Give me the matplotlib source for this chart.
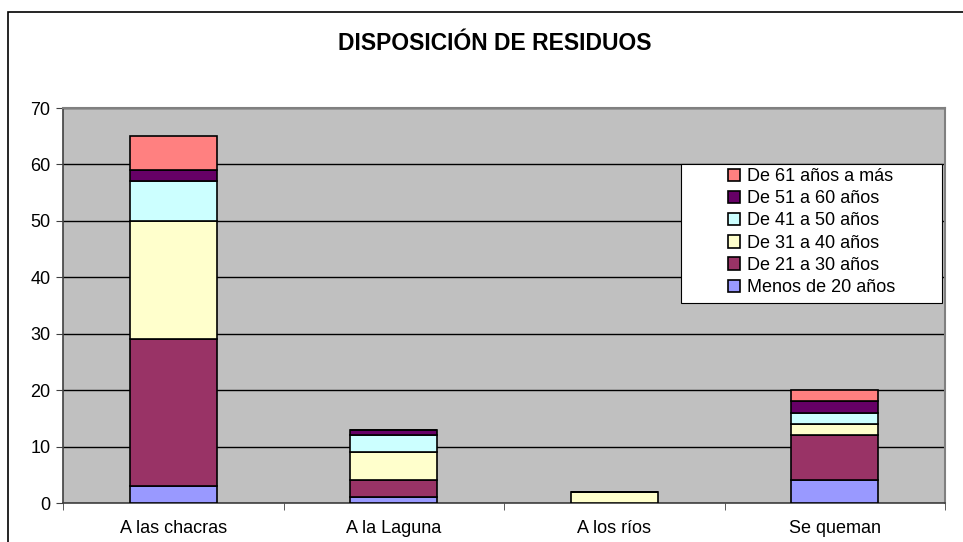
import matplotlib.pyplot as plt
import matplotlib.patches as patches
import numpy as np

plt.rcParams['font.family'] = ['Liberation Sans', 'DejaVu Sans']

categories = ['A las chacras', 'A la Laguna', 'A los ríos', 'Se queman']
series_names = ['Menos de 20 años', 'De 21 a 30 años', 'De 31 a 40 años',
                'De 41 a 50 años', 'De 51 a 60 años', 'De 61 años a más']
menos_20 = [3, 1, 0, 4]
de_21_30 = [26, 3, 0, 8]
de_31_40 = [21, 5, 2, 2]
de_41_50 = [7, 3, 0, 2]
de_51_60 = [2, 1, 0, 2]
de_61_mas = [6, 0, 0, 2]
colors = ['#9999FF', '#993366', '#FFFFCC', '#CCFFFF', '#660066', '#FF8080']

series = [menos_20, de_21_30, de_31_40, de_41_50, de_51_60, de_61_mas]

fig = plt.figure(figsize=(9.63, 5.42), dpi=100)
ax = fig.add_axes([63 / 963, 39 / 542, 882 / 963, 395 / 542])
ax.set_facecolor('#C0C0C0')

x = np.arange(len(categories))
bottom = np.zeros(len(categories))
handles = []
for vals, name, col in zip(series, series_names, colors):
    vals = np.array(vals, dtype=float)
    b = ax.bar(x, vals, width=0.395, bottom=bottom, color=col,
               edgecolor='black', linewidth=1.2, label=name, zorder=3)
    handles.append(b)
    bottom += vals

ax.set_xlim(-0.5, 3.5)
ax.set_ylim(0, 70)
ax.set_yticks(range(0, 71, 10))
ax.yaxis.grid(True, color='black', linewidth=1, zorder=1)
ax.set_axisbelow(True)

ax.set_xticks(x)
ax.set_xticklabels(categories, fontsize=13)
ax.set_xticks([-0.5, 0.5, 1.5, 2.5, 3.5], minor=True)
ax.tick_params(axis='x', which='major', length=0, pad=12)
ax.tick_params(axis='x', which='minor', length=5, direction='out', color='#404040')
ax.tick_params(axis='y', length=5, direction='out', color='#404040', labelsize=13, pad=4)

for side in ['top', 'right']:
    ax.spines[side].set_color('#808080')
    ax.spines[side].set_linewidth(1.5)
for side in ['left', 'bottom']:
    ax.spines[side].set_color('#404040')
    ax.spines[side].set_linewidth(1.2)

# legend box drawn by hand, entries placed inside it
fig.patches.append(patches.Rectangle((681 / 963, (542 - 303) / 542), 261 / 963, 139 / 542,
                                     transform=fig.transFigure, facecolor='white',
                                     edgecolor='black', linewidth=0.8, zorder=5))
leg = fig.legend(handles[::-1], series_names[::-1],
                 loc='upper left', bbox_to_anchor=(728 / 963, (542 - 168) / 542),
                 fontsize=13, frameon=False, borderpad=0, labelspacing=0.29,
                 handlelength=0.67, handleheight=0.67, handletextpad=0.4,
                 borderaxespad=0)
leg.set_zorder(6)

fig.text(495 / 963, (542 - 43) / 542, 'DISPOSICIÓN DE RESIDUOS',
         ha='center', va='center', fontsize=16.5, fontweight='bold')

# outer chart frame
fig.patches.append(patches.Rectangle((8 / 963, -0.1), 1.2, (542 - 12) / 542 + 0.1,
                                     transform=fig.transFigure, fill=False,
                                     edgecolor='black', linewidth=1.2))

fig.savefig('out.png', dpi=100)
